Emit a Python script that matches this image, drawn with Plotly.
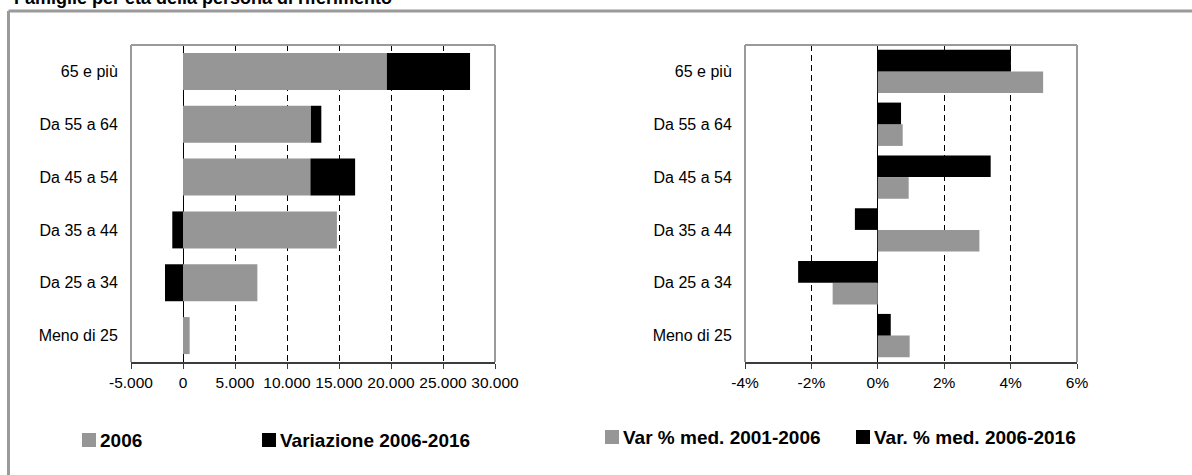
import plotly.graph_objects as go

# Data
CATEGORIES = ["Meno di 25", "Da 25 a 34", "Da 35 a 44", "Da 45 a 54", "Da 55 a 64", "65 e più"]

FAM_2006 = [640, 7150, 14800, 12250, 12300, 19600]
VAR_2006_2016 = [0, -1730, -1030, 4300, 1000, 8000]

VAR_MED_2001_2006 = [0.96, -1.36, 3.06, 0.93, 0.75, 4.98]
VAR_MED_2006_2016 = [0.39, -2.40, -0.69, 3.40, 0.70, 4.01]

LEFT_TICKS = [-5000, 0, 5000, 10000, 15000, 20000, 25000, 30000]
LEFT_TICK_LABELS = ["-5.000", "0", "5.000", "10.000", "15.000", "20.000", "25.000", "30.000"]
RIGHT_TICKS = [-4, -2, 0, 2, 4, 6]
RIGHT_TICK_LABELS = ["-4%", "-2%", "0%", "2%", "4%", "6%"]

LEFT_NAMES = ["2006", "Variazione 2006-2016"]
RIGHT_NAMES = ["Var % med. 2001-2006", "Var. % med. 2006-2016"]
TITLE = "Famiglie per età della persona di riferimento"

# Style
GRAY = "#969696"
BLACK = "#000000"
FRAME = "#9a9a9a"
AXIS = "#3c3c3c"
FONT = "Liberation Sans, Arial, sans-serif"

W, H = 1192, 475


def px(x):
    # screen pixel -> paper fraction
    return x / W


def py(y):
    return 1 - y / H


LEFT_DOM = [px(131), px(495)]
RIGHT_DOM = [px(745), px(1077)]
Y_DOM = [py(362), py(45)]
LEFT_RANGE = [-5000, 30000]
RIGHT_RANGE = [-4, 6]


def zero_pos(dom, rng):
    return dom[0] + (0 - rng[0]) / (rng[1] - rng[0]) * (dom[1] - dom[0])


fig = go.Figure()

# left: stacked bars
fig.add_trace(go.Bar(
    y=CATEGORIES, x=FAM_2006, orientation="h", name=LEFT_NAMES[0],
    marker=dict(color=GRAY, line_width=0), width=0.7, offsetgroup="l",
    xaxis="x", yaxis="y",
))
fig.add_trace(go.Bar(
    y=CATEGORIES, x=VAR_2006_2016, orientation="h", name=LEFT_NAMES[1],
    marker=dict(color=BLACK, line_width=0), width=0.7, offsetgroup="l",
    xaxis="x", yaxis="y",
))

# right: grouped bars
fig.add_trace(go.Bar(
    y=CATEGORIES, x=VAR_MED_2001_2006, orientation="h", name=RIGHT_NAMES[0],
    marker=dict(color=GRAY, line_width=0), offsetgroup="r1",
    xaxis="x2", yaxis="y2",
))
fig.add_trace(go.Bar(
    y=CATEGORIES, x=VAR_MED_2006_2016, orientation="h", name=RIGHT_NAMES[1],
    marker=dict(color=BLACK, line_width=0), offsetgroup="r2",
    xaxis="x2", yaxis="y2",
))

x_common = dict(
    showgrid=True, gridcolor="#000000", gridwidth=1, griddash="6px,4px",
    zeroline=True, zerolinecolor="#000000", zerolinewidth=1,
    showline=True, linecolor=AXIS, linewidth=2,
    ticks="outside", ticklen=5, tickcolor=AXIS, tickwidth=1, tickangle=0,
    tickfont=dict(size=15.5, color="#000000"), fixedrange=True, automargin=False,
)
y_labels = dict(
    type="category", categoryorder="array", categoryarray=CATEGORIES,
    ticks="outside", ticklen=9, tickcolor="rgba(0,0,0,0)",
    showgrid=False, zeroline=False, showline=False,
    tickfont=dict(size=16, color="#000000"), fixedrange=True, automargin=False,
)
y_zero_ticks = dict(
    type="category", categoryorder="array", categoryarray=CATEGORIES,
    ticks="outside", tickson="boundaries", ticklen=5, tickcolor="#000000",
    showticklabels=False, showgrid=False, zeroline=False, showline=False,
    anchor="free", fixedrange=True, automargin=False,
)

fig.update_layout(
    template="none",
    width=W, height=H, autosize=False,
    margin=dict(l=0, r=0, t=0, b=0, autoexpand=False),
    paper_bgcolor="white", plot_bgcolor="white",
    font=dict(family=FONT, color="#000000"),
    barmode="relative", bargap=0.18,
    showlegend=False,
    xaxis=dict(domain=LEFT_DOM, range=LEFT_RANGE, anchor="y",
               tickmode="array", tickvals=LEFT_TICKS, ticktext=LEFT_TICK_LABELS, **x_common),
    yaxis=dict(domain=Y_DOM, anchor="x", **y_labels),
    xaxis2=dict(domain=RIGHT_DOM, range=RIGHT_RANGE, anchor="y2",
                tickmode="array", tickvals=RIGHT_TICKS, ticktext=RIGHT_TICK_LABELS, **x_common),
    yaxis2=dict(domain=Y_DOM, anchor="x2", **y_labels),
    yaxis3=dict(overlaying="y", matches="y", position=zero_pos(LEFT_DOM, LEFT_RANGE), **y_zero_ticks),
    yaxis4=dict(overlaying="y2", matches="y2", position=zero_pos(RIGHT_DOM, RIGHT_RANGE), **y_zero_ticks),
)

shapes = []
# outer frame: only left and top edges fall inside the picture
shapes.append(dict(type="line", xref="paper", yref="paper",
                   x0=px(8.5), x1=1, y0=py(11), y1=py(11),
                   line=dict(color=FRAME, width=3), layer="below"))
shapes.append(dict(type="line", xref="paper", yref="paper",
                   x0=px(8.5), x1=px(8.5), y0=0, y1=py(11),
                   line=dict(color=FRAME, width=3), layer="below"))
# plot area borders (left, top, right)
for xr, yr in (("x domain", "y domain"), ("x2 domain", "y2 domain")):
    for x0, x1, y0, y1 in ((0, 0, 0, 1), (0, 1, 1, 1), (1, 1, 0, 1)):
        shapes.append(dict(type="line", xref=xr, yref=yr, x0=x0, x1=x1, y0=y0, y1=y1,
                           line=dict(color=FRAME, width=2), layer="above"))

# custom legend
legend_items = [
    (LEFT_NAMES[0], GRAY, 82, 440),
    (LEFT_NAMES[1], BLACK, 262, 440),
    (RIGHT_NAMES[0], GRAY, 605, 437),
    (RIGHT_NAMES[1], BLACK, 856, 437),
]
for label, color, x, yc in legend_items:
    shapes.append(dict(type="rect", xref="paper", yref="paper",
                       x0=px(x), x1=px(x + 14), y0=py(yc + 7), y1=py(yc - 7),
                       fillcolor=color, line_width=0))
    fig.add_annotation(text=f"<b>{label}</b>", xref="paper", yref="paper",
                       x=px(x + 16), y=py(yc), xanchor="left", yanchor="middle",
                       showarrow=False, font=dict(size=19, color="#000000"))

fig.update_layout(shapes=shapes)

# title (cut off at the top like the source)
fig.add_annotation(text=f"<b>{TITLE}</b>", xref="paper", yref="paper",
                   x=px(12), y=py(10), xanchor="left", yanchor="bottom",
                   showarrow=False, font=dict(size=18, color="#000000"))

# drop the default 8px body margin so the figure sits at the window origin
fig.write_html("out.html", config={"displayModeBar": False},
               post_script="document.body.style.margin='0';")
